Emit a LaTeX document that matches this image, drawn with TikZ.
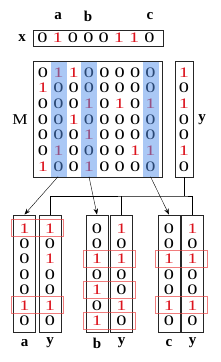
\documentclass[tikz,border=0pt]{standalone}
\usepackage{fontspec}
\setmainfont{Liberation Serif}
\newfontfamily\widedigits[FakeStretch=1.4]{Liberation Serif}
\newfontfamily\wideletter[FakeStretch=1.15]{Liberation Serif}
\usepackage{xcolor}
\usetikzlibrary{arrows.meta,positioning}

\definecolor{bitred}{RGB}{220,20,30}
\definecolor{colblue}{RGB}{85,145,235}
\definecolor{hitred}{RGB}{235,70,70}
\newcommand{\bitval}[1]{\ifnum#1=1 \textcolor{bitred}{1}\else 0\fi}

\begin{document}
\begin{tikzpicture}[
  x=1pt, y=-1pt,
  >={Stealth[length=6pt,width=4.5pt]},
  bit/.style={inner sep=0pt, font=\widedigits\fontsize{14.5}{15}\selectfont},
  lbl/.style={inner sep=0pt, font=\fontsize{15}{16}\selectfont\bfseries},
  vecbox/.style={draw=black!85, line width=0.9pt, rectangle, inner sep=0pt},
  colmark/.style={fill=colblue, fill opacity=0.5, draw=none, inner sep=0pt,
                  minimum width=16, minimum height=115},
  hitbox/.style={draw=hitred, draw opacity=0.7, line width=0.9pt, inner sep=0pt,
                 minimum width=52, minimum height=17}
]
\useasboundingbox (0,0) rectangle (220,362);

% x vector with column labels
\node[lbl] (labx) at (22,38) {x};
\node[vecbox, minimum width=130, minimum height=16] (xvec) at (98,38) {};
\foreach \v [count=\c] in {0,1,0,0,0,1,1,0}
  \node[bit] (x-\c) at ({27.15+15.3*\c},38) {\bitval{\v}};
\node[lbl] (laba) at (58,16)  {a};
\node[lbl] (labb) at (88,16)  {b};
\node[lbl] (labc) at (150,16) {c};

% matrix M
\node[inner sep=0pt, font=\wideletter\fontsize{15}{16}\selectfont] (labM) at (20,120) {M};
\node[vecbox, minimum width=129, minimum height=116] (Mbox) at (97.5,119) {};
\foreach \row [count=\r] in {{0,1,1,0,0,0,0,0},{1,0,0,0,0,0,0,0},{0,0,0,1,0,1,0,1},
                             {0,0,1,0,0,0,0,0},{0,0,0,1,0,0,0,0},{0,1,0,0,0,0,1,1},
                             {1,0,0,1,0,0,0,0}}
  \foreach \v [count=\c] in \row
    \node[bit] (M-\r-\c) at ({27.65+15.35*\c},{56.6+15.7*\r}) {\bitval{\v}};
\node[colmark] (colA) at (59,119)    {};
\node[colmark] (colB) at (89,119)    {};
\node[colmark] (colC) at (150.5,119) {};

% vector y
\node[vecbox, minimum width=18, minimum height=116] (yvec) at (184,119) {};
\foreach \v [count=\r] in {1,0,1,0,0,1,0}
  \node[bit] (y-\r) at (184,{56.6+15.7*\r}) {\bitval{\v}};
\node[lbl] (laby) at (202,120) {y};

% selected columns, each next to a copy of y
\node[vecbox, minimum width=22, minimum height=117] (abox)  at (24.5,273.5)  {};
\node[vecbox, minimum width=22, minimum height=117] (yAbox) at (50,273.5)    {};
\node[vecbox, minimum width=22, minimum height=117] (bbox)  at (97,273.5)    {};
\node[vecbox, minimum width=22, minimum height=117] (yBbox) at (121.5,273.5) {};
\node[vecbox, minimum width=22, minimum height=117] (cbox)  at (169,273.5)   {};
\node[vecbox, minimum width=22, minimum height=117] (yCbox) at (192.5,273.5) {};

\foreach \v [count=\r] in {1,0,0,0,0,1,0}
  \node[bit] (a-\r) at (24.5,{212.9+15.4*\r}) {\bitval{\v}};
\foreach \v [count=\r] in {0,0,1,0,1,0,1}
  \node[bit] (b-\r) at (97,{212.9+15.4*\r}) {\bitval{\v}};
\foreach \v [count=\r] in {0,0,1,0,0,1,0}
  \node[bit] (c-\r) at (169,{212.9+15.4*\r}) {\bitval{\v}};
\foreach \cx/\id in {50/A,121.5/B,192.5/C}
  \foreach \v [count=\r] in {1,0,1,0,0,1,0}
    \node[bit] (y\id-\r) at (\cx,{212.9+15.4*\r}) {\bitval{\v}};

% matching rows
\node[hitbox] (hitA1) at (37,{212.9+15.4*1})   {};
\node[hitbox] (hitA6) at (37,{212.9+15.4*6})   {};
\node[hitbox] (hitB3) at (109,{212.9+15.4*3})  {};
\node[hitbox] (hitB5) at (109,{212.9+15.4*5})  {};
\node[hitbox] (hitB7) at (109,{212.9+15.4*7})  {};
\node[hitbox] (hitC3) at (181,{212.9+15.4*3})  {};
\node[hitbox] (hitC6) at (181,{212.9+15.4*6})  {};

\node[lbl] (labA)  at (24.5,343)  {a};
\node[lbl] (labyA) at (50,343)    {y};
\node[lbl] (labB)  at (97,343)    {b};
\node[lbl] (labyB) at (121.5,343) {y};
\node[lbl] (labC)  at (169,343)   {c};
\node[lbl] (labyC) at (192.5,343) {y};

% connectors
\draw[->] ([xshift=-1pt]colA.south) -- (abox.north);
\draw[->] (colB.south) -- (bbox.north);
\draw[->] (colC.south) -- (cbox.north);
\coordinate (bus) at (184,196);
\draw (yvec.south) -- (bus);
\draw (yAbox.north) |- (bus) -| (yCbox.north);
\draw (yBbox.north) -- (yBbox.north |- bus);
\end{tikzpicture}
\end{document}
